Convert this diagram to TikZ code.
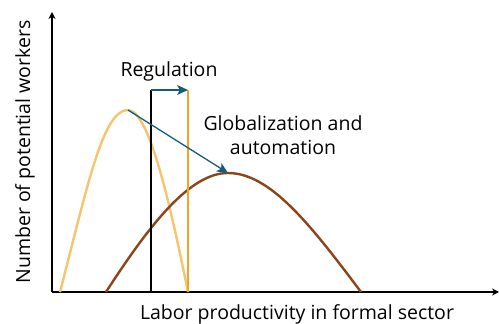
\documentclass[tikz,border=0pt]{standalone}
\usepackage{fontspec}
\setmainfont{Open Sans}
\usetikzlibrary{arrows.meta}
\definecolor{lightorange}{HTML}{F5C46E}
\definecolor{deeporange}{HTML}{EFA52C}
\definecolor{curvebrown}{HTML}{8C4519}
\definecolor{arrowblue}{HTML}{165A7E}
\tikzset{
  axis/.style={line width=1.3pt, -{Stealth[length=7pt,width=7pt]}},
  shift arrow/.style={arrowblue, line width=1.3pt, -{Stealth[length=11pt,width=10pt,inset=3pt]}},
  label text/.style={font=\fontsize{19.5}{24}\selectfont, align=center, inner sep=0pt}
}
\begin{document}
\begin{tikzpicture}[x=1pt,y=1pt]
        \useasboundingbox (0,0) rectangle (499,324);
        % axes
        \coordinate (o) at (52,32);
        \draw[axis] (o) -- (52,312);
        \draw[axis] (o) -- (499,32);

        % curves
        \coordinate (oldpeak) at (128,214);
        \coordinate (newpeak) at (228,151);
        \draw[lightorange, line width=2.4pt] (60,32) .. controls (88,140) and (103,214) .. (oldpeak)
              .. controls (150,214) and (172,110) .. (188,32);
        \draw[curvebrown, line width=2.4pt] (106,32) .. controls (150,100) and (190,151) .. (newpeak)
              .. controls (270,151) and (310,100) .. (361,32);

        % regulation lines
        \coordinate (blacktop) at (151,234);
        \coordinate (orangetop) at (188,234);
        \draw[line width=2.8pt] (151,32) -- (blacktop);
        \draw[deeporange, line width=2.4pt] (188,32) -- (orangetop);
        \draw[shift arrow] (blacktop) -- (orangetop);
        \draw[shift arrow] (oldpeak) -- (newpeak);

        % labels
        \node[label text] (reg) at (169,253) {Regulation};
        \node[label text] (glob) at (283,189) {Globalization and\\automation};
        \node[label text, rotate=90] (ylab) at (25,172) {Number of potential workers};
        \node[label text] (xlab) at (297,10) {Labor productivity in formal sector};
      \end{tikzpicture}
\end{document}
